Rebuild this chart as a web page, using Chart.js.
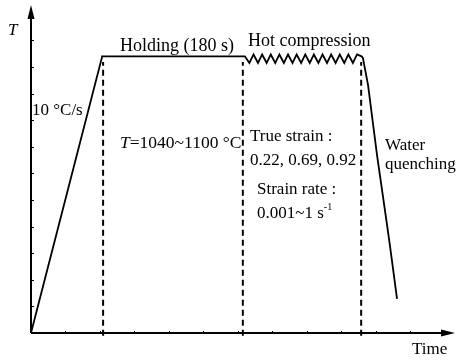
<!DOCTYPE html>
<html>
<head>
<meta charset="utf-8">
<script src="https://cdn.jsdelivr.net/npm/chart.js@4/dist/chart.umd.min.js"></script>
<style>
  html, body { margin: 0; padding: 0; background: #fff; }
  #wrap { width: 460px; height: 363px; }
</style>
</head>
<body>
<div id="wrap"><canvas id="chart"></canvas></div>
<script>
/* ===============================
   Data (schematic units)
================================ */
const rampTime = [0, 2.06];
const rampTemp = [0, 10.38];

const holdTime = [2.06, 6.20];
const holdTemp = [10.40, 10.40];

const compressionTime = [6.33, 6.45, 6.58, 6.70, 6.83, 6.95, 7.08, 7.20, 7.33, 7.45, 7.58, 7.70, 7.83,
                         7.95, 8.08, 8.20, 8.33, 8.45, 8.58, 8.70, 8.83, 8.95, 9.08, 9.20, 9.33, 9.45];
const compressionTemp = [10.15, 10.47, 10.15, 10.47, 10.15, 10.47, 10.15, 10.47, 10.15, 10.47, 10.15, 10.47, 10.15,
                         10.47, 10.15, 10.47, 10.15, 10.47, 10.15, 10.47, 10.15, 10.47, 10.15, 10.47, 10.15, 10.47];

const quenchTime = [9.58, 9.62, 9.77, 10.03, 10.32, 10.41, 10.61];
const quenchTemp = [10.40, 10.34, 9.32, 6.69, 4.06, 3.23, 1.28];

const dividerTimes = [2.09, 6.14, 9.57];
const dividerTemp = [-0.1, 10.19];

const timeTicks = [0, 1, 2, 3, 4, 5, 6, 7, 8, 9, 10, 11, 12];
const tempTicks = [0, 1, 2, 3, 4, 5, 6, 7, 8, 9, 10, 11];

const SERIF = "'Liberation Serif', 'Times New Roman', serif";

function toPoints(xs, ys) {
  return xs.map((x, i) => ({ x: x, y: ys[i] }));
}

const curve = [
  ...toPoints(rampTime, rampTemp),
  ...toPoints(holdTime, holdTemp),
  ...toPoints(compressionTime, compressionTemp),
  ...toPoints(quenchTime, quenchTemp)
];

const dividerSets = dividerTimes.map(t => ({
  data: toPoints([t, t], dividerTemp),
  borderColor: "#000",
  borderWidth: 2,
  borderDash: [6, 4],
  pointRadius: 0,
  showLine: true,
  clip: false
}));

/* ===============================
   Axes with arrows + inner ticks
================================ */
const axesPlugin = {
  id: "axes",
  afterDatasetsDraw(chart) {
    const { ctx, chartArea: a, scales: { x, y } } = chart;
    const x0 = x.getPixelForValue(0);
    const y0 = y.getPixelForValue(0);
    ctx.save();
    ctx.strokeStyle = "#000";
    ctx.fillStyle = "#000";
    ctx.lineWidth = 2;

    ctx.beginPath();
    ctx.moveTo(x0, y0);
    ctx.lineTo(x0, a.top + 10);
    ctx.moveTo(x0, y0);
    ctx.lineTo(a.right - 10, y0);
    ctx.stroke();

    // arrow heads
    ctx.beginPath();
    ctx.moveTo(x0, a.top);
    ctx.lineTo(x0 - 3.5, a.top + 14);
    ctx.lineTo(x0 + 3.5, a.top + 14);
    ctx.closePath();
    ctx.fill();
    ctx.beginPath();
    ctx.moveTo(a.right, y0);
    ctx.lineTo(a.right - 14, y0 - 3.5);
    ctx.lineTo(a.right - 14, y0 + 3.5);
    ctx.closePath();
    ctx.fill();

    // small ticks
    ctx.lineWidth = 1;
    tempTicks.forEach(v => {
      const py = Math.round(y.getPixelForValue(v)) + 0.5;
      ctx.beginPath();
      ctx.moveTo(x0, py);
      ctx.lineTo(x0 + 3, py);
      ctx.stroke();
    });
    timeTicks.forEach(v => {
      const px = Math.round(x.getPixelForValue(v)) + 0.5;
      ctx.beginPath();
      ctx.moveTo(px, y0 - 2);
      ctx.lineTo(px, y0 + 1);
      ctx.stroke();
    });
    ctx.restore();
  }
};

/* ===============================
   Text labels
================================ */
function label(ctx, txt, px, py, size, italic) {
  ctx.font = (italic ? "italic " : "") + size + "px " + SERIF;
  ctx.fillText(txt, px, py);
  return ctx.measureText(txt).width;
}

const textPlugin = {
  id: "texts",
  afterDraw(chart) {
    const ctx = chart.ctx;
    ctx.save();
    ctx.fillStyle = "#000";
    ctx.textBaseline = "alphabetic";

    label(ctx, "T", 8, 35, 17, true);
    label(ctx, "Time", 412, 354, 17);

    label(ctx, "Holding (180 s)", 120, 51, 18);
    label(ctx, "Hot compression", 248, 46, 18);

    label(ctx, "10 °C/s", 32, 115, 17);

    let w = label(ctx, "T", 120, 148, 17.5, true);
    label(ctx, "=1040~1100 °C", 120 + w, 148, 17.5);

    label(ctx, "True strain :", 250, 141, 17);
    label(ctx, "0.22, 0.69, 0.92", 250, 165, 17);
    label(ctx, "Strain rate :", 257, 194, 17);
    w = label(ctx, "0.001~1 s", 257, 218, 17);
    label(ctx, "-1", 257 + w, 210, 10);

    label(ctx, "Water", 385, 150, 17);
    label(ctx, "quenching", 385, 169, 17);
    ctx.restore();
  }
};

/* ===============================
   Chart
================================ */
new Chart(document.getElementById("chart"), {
  type: "scatter",
  data: {
    datasets: [
      {
        data: curve,
        borderColor: "#000",
        borderWidth: 1.8,
        pointRadius: 0,
        showLine: true,
        tension: 0,
        clip: false
      },
      ...dividerSets
    ]
  },
  options: {
    responsive: true,
    maintainAspectRatio: false,
    animation: false,
    layout: { padding: { left: 31, right: 5, top: 5, bottom: 30 } },
    plugins: { legend: { display: false }, tooltip: { enabled: false } },
    scales: {
      x: { type: "linear", min: 0, max: 12.29, display: false },
      y: { type: "linear", min: 0, max: 12.33, display: false }
    }
  },
  plugins: [axesPlugin, textPlugin]
});
</script>
</body>
</html>
